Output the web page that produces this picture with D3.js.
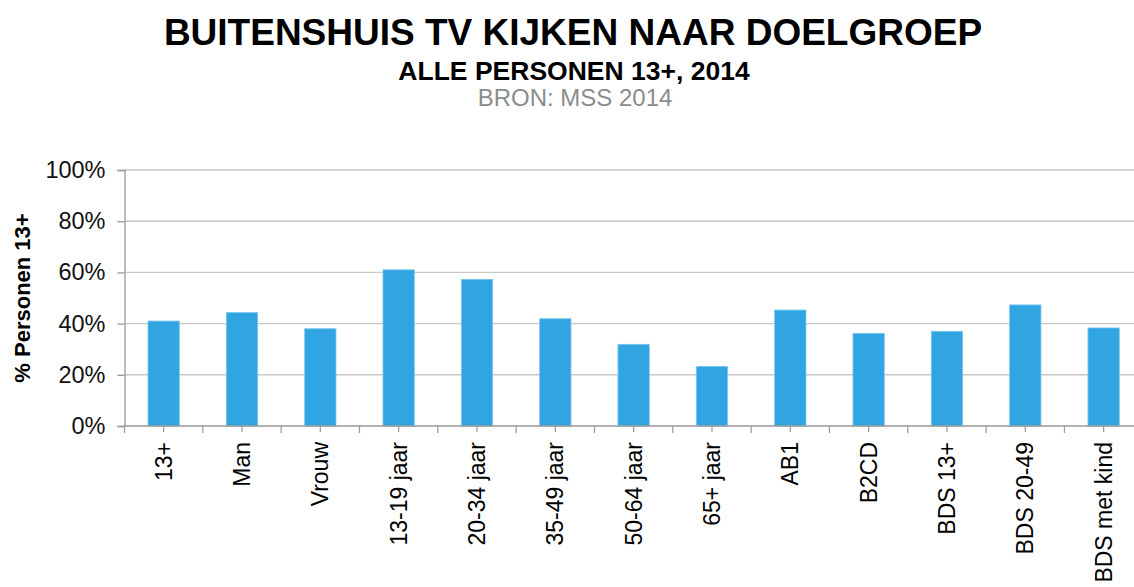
<!DOCTYPE html>
<html>
<head>
<meta charset="utf-8">
<script src="https://cdn.jsdelivr.net/npm/d3@7"></script>
<style>
  html, body { margin: 0; padding: 0; background: #fff; }
  svg { display: block; font-family: Arial, "Liberation Sans", sans-serif; }
</style>
</head>
<body>
<div id="chart"></div>
<script>
// Buitenshuis TV kijken naar doelgroep - bar chart

const categories = ['13+', 'Man', 'Vrouw', '13-19 jaar', '20-34 jaar', '35-49 jaar', '50-64 jaar',
  '65+ jaar', 'AB1', 'B2CD', 'BDS 13+', 'BDS 20-49', 'BDS met kind'];
const values = [41.0, 44.3, 38.0, 61.0, 57.3, 41.9, 31.9, 23.3, 45.3, 36.2, 37.0, 47.3, 38.3];
const yTicks = [0, 20, 40, 60, 80, 100];

const width = 1134, height = 587;
const plotLeft = 124.5, plotTop = 170, plotBottom = 426;
const step = 78.33;
const plotRight = plotLeft + step * categories.length; // runs past the image edge, like the source

const svg = d3.select('#chart').append('svg')
  .attr('width', width)
  .attr('height', height);

// Titles
svg.append('text')
  .attr('x', 573).attr('y', 45)
  .attr('text-anchor', 'middle')
  .attr('font-size', '37px').attr('font-weight', 'bold')
  .attr('fill', '#000')
  .text('BUITENSHUIS TV KIJKEN NAAR DOELGROEP');

svg.append('text')
  .attr('x', 574).attr('y', 80)
  .attr('text-anchor', 'middle')
  .attr('font-size', '26.5px').attr('font-weight', 'bold')
  .attr('fill', '#000')
  .text('ALLE PERSONEN 13+, 2014');

svg.append('text')
  .attr('x', 575).attr('y', 106)
  .attr('text-anchor', 'middle')
  .attr('font-size', '24px')
  .attr('fill', '#8c8c8c')
  .text('BRON: MSS 2014');

// Scales
const x = d3.scaleBand()
  .domain(categories)
  .range([plotLeft, plotRight])
  .paddingInner(0.6)
  .paddingOuter(0.3);

const xCell = d3.scaleBand()
  .domain(categories)
  .range([plotLeft, plotRight])
  .padding(0);

const y = d3.scaleLinear()
  .domain([0, 100])
  .range([plotBottom, plotTop]);

// Gridlines
svg.append('g')
  .selectAll('line')
  .data(yTicks.filter(t => t > 0))
  .join('line')
  .attr('x1', plotLeft).attr('x2', width)
  .attr('y1', d => y(d)).attr('y2', d => y(d))
  .attr('stroke', '#c8c8c8')
  .attr('stroke-width', 1.4);

// Y axis
const yAxis = svg.append('g')
  .attr('transform', `translate(${plotLeft},0)`)
  .call(d3.axisLeft(y).tickValues(yTicks).tickSize(7).tickPadding(12).tickFormat(d => d + '%'));
yAxis.select('.domain').attr('stroke', '#999').attr('stroke-width', 1.3);
yAxis.selectAll('.tick line').attr('stroke', '#999').attr('stroke-width', 1.3);
yAxis.selectAll('.tick text')
  .attr('font-size', '23.5px')
  .attr('font-family', 'Arial, "Liberation Sans", sans-serif')
  .attr('fill', '#111');

// Y axis title
svg.append('text')
  .attr('transform', 'translate(22,298) rotate(-90)')
  .attr('text-anchor', 'middle')
  .attr('dy', '0.35em')
  .attr('font-size', '22px').attr('font-weight', 'bold')
  .attr('fill', '#000')
  .text('% Personen 13+');

// Bars
svg.append('g')
  .selectAll('rect')
  .data(categories)
  .join('rect')
  .attr('x', d => x(d))
  .attr('y', (d, i) => y(values[i]))
  .attr('width', x.bandwidth())
  .attr('height', (d, i) => y(0) - y(values[i]))
  .attr('fill', '#31a5e2')
  .attr('stroke', '#7cc6ee')
  .attr('stroke-width', 0.8);

// X axis line
svg.append('line')
  .attr('x1', plotLeft).attr('x2', width)
  .attr('y1', plotBottom).attr('y2', plotBottom)
  .attr('stroke', '#999')
  .attr('stroke-width', 1.4);

// Tick marks at cell edges and cell centres
const tickG = svg.append('g');
tickG.selectAll('line.edge')
  .data(categories)
  .join('line')
  .attr('class', 'edge')
  .attr('x1', d => xCell(d)).attr('x2', d => xCell(d))
  .attr('y1', plotBottom).attr('y2', plotBottom + 7)
  .attr('stroke', '#999').attr('stroke-width', 1.2);
tickG.selectAll('line.mid')
  .data(categories)
  .join('line')
  .attr('class', 'mid')
  .attr('x1', d => xCell(d) + xCell.bandwidth() / 2).attr('x2', d => xCell(d) + xCell.bandwidth() / 2)
  .attr('y1', plotBottom).attr('y2', plotBottom + 6)
  .attr('stroke', '#999').attr('stroke-width', 1.2);

// X labels, rotated
svg.append('g')
  .selectAll('text')
  .data(categories)
  .join('text')
  .attr('transform', d => `translate(${x(d) + x.bandwidth() / 2},442) rotate(-90)`)
  .attr('text-anchor', 'end')
  .attr('dy', '0.35em')
  .attr('font-size', '23px')
  .attr('fill', '#000')
  .text(d => d);
</script>
</body>
</html>
